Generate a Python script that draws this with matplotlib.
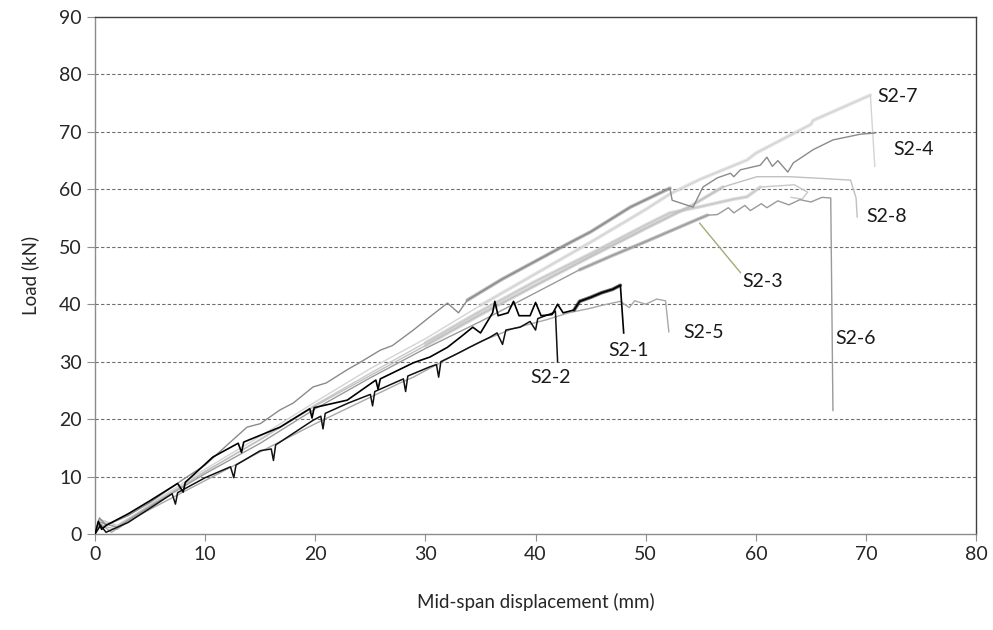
import matplotlib
matplotlib.use("Agg")
import matplotlib.pyplot as plt
import numpy as np

plt.rcParams['font.family'] = ['Lato', 'DejaVu Sans']

# ---- data ----
s21_x = [0, 0.3, 0.6, 1.0, 3, 5, 7.5, 8, 8.2, 10.7, 13, 13.3, 13.5, 16.8, 19.5, 19.7, 19.9, 22.9, 25.5, 25.7, 25.9, 28.9, 30.4, 32, 33.2, 34.3, 35, 36.1, 36.3, 36.6, 37.5, 38, 38.5, 39.5, 40, 40.5, 41.5, 42, 42.5, 43.5, 44, 45, 46, 47, 47.7, 48.0]
s21_y = [0, 2.2, 0.8, 1.5, 3.5, 5.8, 8.8, 7.3, 9.0, 13.4, 15.8, 14.2, 16.0, 18.6, 21.8, 20.2, 22.0, 23.3, 26.8, 25.2, 27.0, 29.8, 30.8, 32.5, 34.3, 36.0, 35.0, 38.5, 40.5, 38.0, 38.5, 40.5, 38.0, 38.0, 40.3, 38.0, 38.2, 40.0, 38.5, 39.0, 40.5, 41.2, 42.0, 42.6, 43.3, 35.0]

s22_x = [0, 0.5, 1.0, 3, 5, 7, 7.3, 7.5, 10, 12.3, 12.6, 12.8, 15, 16, 16.2, 16.4, 19.8, 20.5, 20.7, 20.9, 23, 25, 25.2, 25.4, 28, 28.2, 28.4, 30.4, 31, 31.2, 31.4, 33, 34, 35.9, 36.5, 37, 37.3, 38.6, 39.5, 40, 40.2, 41.6, 41.8, 42.0]
s22_y = [0, 1.5, 0.3, 2.0, 4.5, 7.0, 5.2, 7.2, 9.8, 11.7, 9.8, 12.0, 14.5, 14.8, 12.8, 15.5, 19.8, 20.5, 18.3, 21.0, 22.8, 24.3, 22.3, 24.8, 27.0, 24.8, 27.5, 29.1, 29.5, 27.3, 30.0, 31.5, 32.5, 34.3, 35.0, 33.0, 35.5, 36.0, 37.0, 35.5, 37.5, 38.5, 38.8, 30.0]

s23_x = [0, 0.5, 2, 5, 10, 15, 20, 25, 30, 35, 40, 45, 50, 52.2, 55, 58, 59.2, 60.4, 62, 63.5, 64.7, 64.2, 63.2]
s23_y = [0, 2.5, 1.5, 5.0, 10.8, 16.5, 22.5, 28.0, 33.3, 38.8, 44.0, 48.8, 53.8, 55.9, 57.0, 58.3, 58.7, 60.4, 60.6, 60.8, 59.5, 58.3, 58.6]

s24_x = [0, 0.4, 1, 3, 5, 8, 10, 12, 13.8, 15, 16.8, 18, 19.8, 21, 22.9, 24, 25.9, 27, 28.9, 30.4, 32, 33, 33.8, 37, 40, 43, 45, 48.6, 52.2, 52.4, 54.3, 55.2, 56.5, 57.7, 58.0, 58.6, 60.4, 61.0, 61.5, 62.0, 62.9, 63.4, 65.2, 67.0, 69.5, 70.8]
s24_y = [0, 2.8, 1.5, 3.2, 5.5, 9.5, 12.0, 15.5, 18.6, 19.2, 21.6, 22.8, 25.6, 26.3, 28.6, 29.8, 32.0, 32.8, 35.5, 37.8, 40.2, 38.5, 40.7, 44.4, 47.5, 50.6, 52.6, 56.9, 60.2, 58.1, 56.9, 60.4, 62.0, 62.8, 62.2, 63.4, 64.2, 65.6, 64.0, 65.0, 63.0, 64.6, 66.9, 68.6, 69.6, 69.8]

s25_x = [0, 0.5, 1.5, 3, 5, 10, 15, 20, 25, 27.7, 28.9, 32, 35, 38, 41, 43, 45, 46, 47.7, 48.5, 49, 50, 51, 51.8, 52.1]
s25_y = [0, 1.8, 0.3, 2.2, 4.3, 9.3, 14.3, 19.2, 23.8, 26.3, 27.3, 30.5, 33.5, 35.8, 37.3, 38.5, 39.3, 39.8, 40.5, 39.4, 40.6, 40.0, 40.9, 40.6, 35.2]

s26_x = [0, 0.5, 2, 5, 10, 15, 20, 25, 30, 35, 40, 44, 47, 50, 54, 55.6, 56.5, 57.5, 58, 59, 59.5, 60.5, 61, 62, 63, 64, 65, 66, 66.8, 67.0]
s26_y = [0, 2.0, 1.2, 4.8, 10.5, 15.8, 21.8, 27.2, 32.3, 37.0, 42.0, 46.0, 48.5, 50.9, 54.2, 55.5, 55.6, 56.8, 55.9, 57.2, 56.3, 57.5, 56.8, 58.0, 57.3, 58.2, 57.8, 58.6, 58.5, 21.5]

s27_x = [0, 0.5, 2, 5, 10, 15, 20, 25, 30, 35, 40, 45, 50, 52.2, 55, 59.2, 60, 65, 65.2, 70.4, 70.8]
s27_y = [0, 2.3, 1.0, 5.2, 11.3, 17.0, 23.0, 28.8, 34.0, 39.8, 45.3, 50.8, 56.5, 59.2, 61.8, 65.1, 66.3, 71.3, 72.0, 76.4, 64.0]

s28_x = [0, 0.5, 2, 5, 10, 15, 20, 25, 30, 35, 40, 45, 50, 54, 57, 60.1, 63, 66, 68.6, 69.1, 69.2]
s28_y = [0, 1.5, 0.8, 4.9, 10.9, 16.4, 22.3, 27.6, 32.8, 38.2, 43.3, 48.3, 53.2, 57.0, 60.4, 62.2, 62.2, 61.9, 61.6, 58.5, 55.2]

labels = ["S2-1", "S2-2", "S2-3", "S2-4", "S2-5", "S2-6", "S2-7", "S2-8"]
label_x = [46.6, 39.5, 58.8, 72.5, 53.4, 67.2, 71.0, 70.0]
label_y = [32.0, 27.2, 43.9, 66.9, 35.0, 34.1, 76.1, 55.2]

x_ticks = [0, 10, 20, 30, 40, 50, 60, 70, 80]
y_ticks = [0, 10, 20, 30, 40, 50, 60, 70, 80, 90]

# ---- figure ----
fig = plt.figure(figsize=(9.93, 6.30), dpi=100)
ax = fig.add_axes([0.0957, 0.1524, 0.8873, 0.8206])

series = [
    (s27_x, s27_y, '#d4d4d4', 1.0, (32, 70.5)),
    (s23_x, s23_y, '#c8c8c8', 1.0, (30, 60.5)),
    (s28_x, s28_y, '#c0c0c0', 1.0, (30, 57)),
    (s26_x, s26_y, '#9a9a9a', 1.0, (44, 55.6)),
    (s24_x, s24_y, '#8a8a8a', 1.0, (33.8, 52.2)),
    (s25_x, s25_y, '#a8a8a8', 1.0, None),
    (s22_x, s22_y, '#111111', 1.1, None),
    (s21_x, s21_y, '#000000', 1.2, (43.5, 47.7)),
]
for xs, ys, col, lw, saw in series:
    xs = np.array(xs); ys = np.array(ys)
    ax.plot(xs, ys, color=col, lw=lw, zorder=3)
    if saw is not None:
        m = (xs >= saw[0]) & (xs <= saw[1])
        ax.plot(xs[m], ys[m], color=col, lw=2.6, alpha=0.6, zorder=3,
                solid_capstyle='round')

# leader for S2-3
ax.plot([54.9, 58.6], [54.1, 45.5], color='#a8a878', lw=1.0, zorder=4)

for t, lx, ly in zip(labels, label_x, label_y):
    ax.text(lx, ly, t, fontsize=14, color='#1a1a1a', va='center', ha='left', zorder=5)

ax.set_xlim(0, 80)
ax.set_ylim(0, 90)
ax.set_xticks(x_ticks)
ax.set_yticks(y_ticks)
ax.tick_params(axis='both', labelsize=14, labelcolor='#262626', color='#909090',
               direction='out', length=5, width=0.8)
ax.tick_params(axis='y', length=6)
for yv in y_ticks[1:-1]:
    ax.axhline(yv, color='#6e6e6e', lw=0.8, ls=(0, (3, 2)), zorder=1)

ax.spines['left'].set_color('#8c8c8c')
ax.spines['bottom'].set_color('#8c8c8c')
ax.spines['top'].set_color('#404040')
ax.spines['right'].set_color('#404040')
for s in ax.spines.values():
    s.set_linewidth(1.0)

ax.set_xlabel('Mid-span displacement (mm)', fontsize=13.5, color='#262626', labelpad=22)
ax.set_ylabel('Load (kN)', fontsize=13.5, color='#262626', labelpad=14)

fig.savefig('out.png', dpi=100)
